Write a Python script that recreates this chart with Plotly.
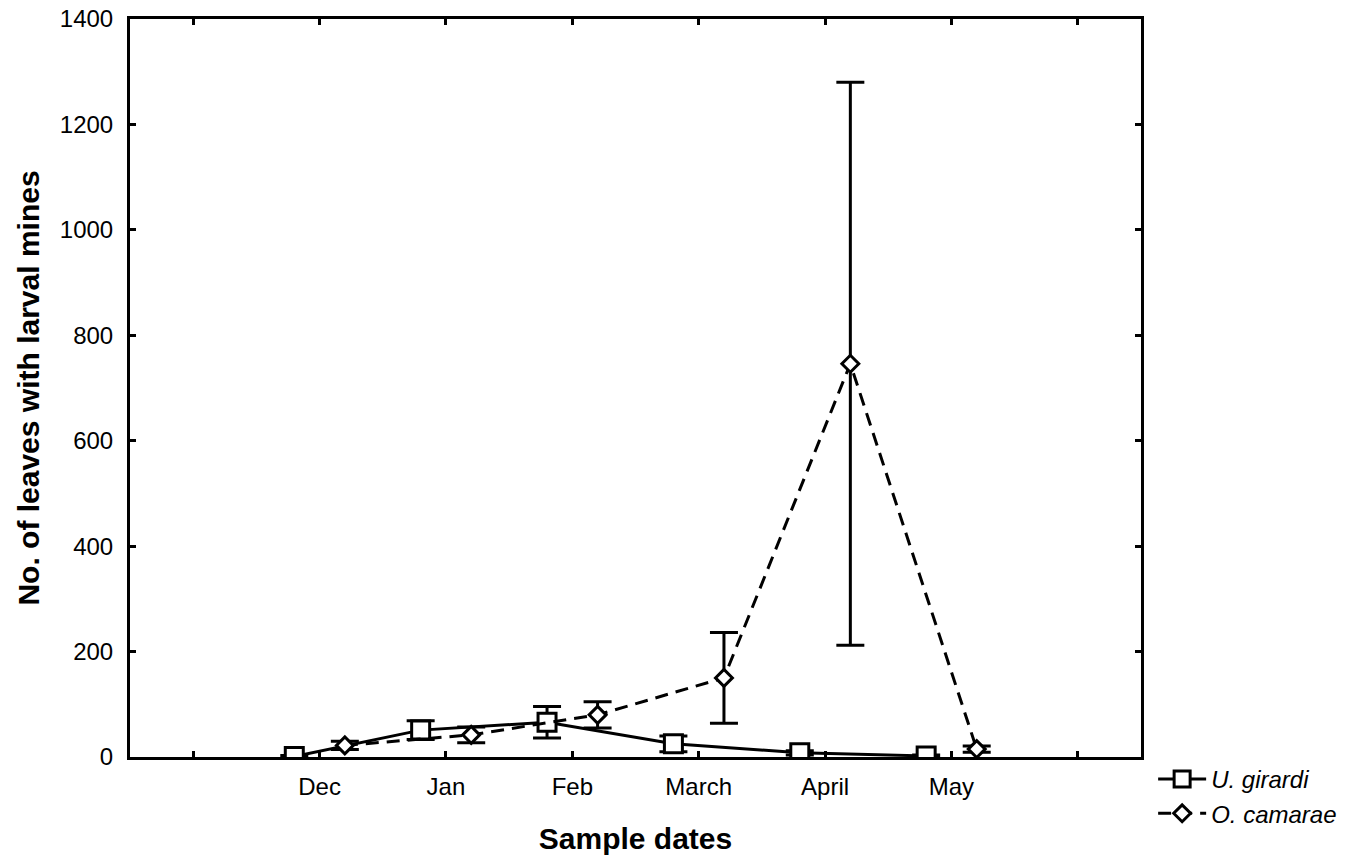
import plotly.graph_objects as go

months = ["Dec", "Jan", "Feb", "March", "April", "May"]
u_girardi = [1, 51, 66, 25, 8, 2]
u_girardi_err = [2, 18, 30, 15, 4, 2]
o_camarae = [22, 42, 80, 150, 746, 15]
o_camarae_err = [8, 15, 25, 86, 534, 6]
y_ticks = [0, 200, 400, 600, 800, 1000, 1200, 1400]

FONT = "Arial, 'Liberation Sans', sans-serif"
pos = list(range(1, len(months) + 1))
OFF = 0.2

fig = go.Figure()
fig.add_trace(go.Scatter(
    x=[p - OFF for p in pos], y=u_girardi, name="U. girardi",
    mode="lines+markers",
    line=dict(color="black", width=3),
    marker=dict(symbol="square", size=18, color="white", line=dict(color="black", width=3)),
    error_y=dict(type="data", array=u_girardi_err, visible=True, color="black", thickness=3, width=14),
))
fig.add_trace(go.Scatter(
    x=[p + OFF for p in pos], y=o_camarae, name="O. camarae",
    mode="lines+markers",
    line=dict(color="black", width=3, dash="13px,8px"),
    marker=dict(symbol="diamond", size=13, color="white", line=dict(color="black", width=3)),
    error_y=dict(type="data", array=o_camarae_err, visible=True, color="black", thickness=3, width=14),
))

fig.update_layout(
    width=1363, height=860,
    margin=dict(l=130, r=222, t=19, b=103),
    plot_bgcolor="white", paper_bgcolor="white",
    font=dict(family=FONT, size=24, color="black"),
    showlegend=True,
    legend=dict(x=1.012, y=0.0, xanchor="left", yanchor="top",
                font=dict(family=FONT, size=24, style="italic"),
                itemwidth=48,
                bgcolor="rgba(0,0,0,0)", tracegroupgap=0),
)
fig.update_xaxes(
    range=[-0.5, 7.5], automargin=False,
    tickmode="array", tickvals=list(range(0, 8)),
    ticktext=[""] + months + [""],
    ticks="inside", ticklen=6, tickwidth=3, tickcolor="black",
    ticklabelstandoff=6,
    showline=True, linewidth=3, linecolor="black", mirror="ticks",
    showgrid=False, zeroline=False,
    tickfont=dict(family=FONT, size=24),
    title=dict(text="<b>Sample dates</b>", font=dict(family=FONT, size=30), standoff=30),
)
fig.update_yaxes(
    range=[0, 1400], automargin=False,
    tickmode="array", tickvals=y_ticks,
    ticks="inside", ticklen=6, tickwidth=3, tickcolor="black",
    ticklabelstandoff=9,
    showline=True, linewidth=3, linecolor="black", mirror="ticks",
    showgrid=False, zeroline=False,
    tickfont=dict(family=FONT, size=24),
    title=dict(text="<b>No. of leaves with larval mines</b>", font=dict(family=FONT, size=30), standoff=12),
)

fig.write_html("out.html")
